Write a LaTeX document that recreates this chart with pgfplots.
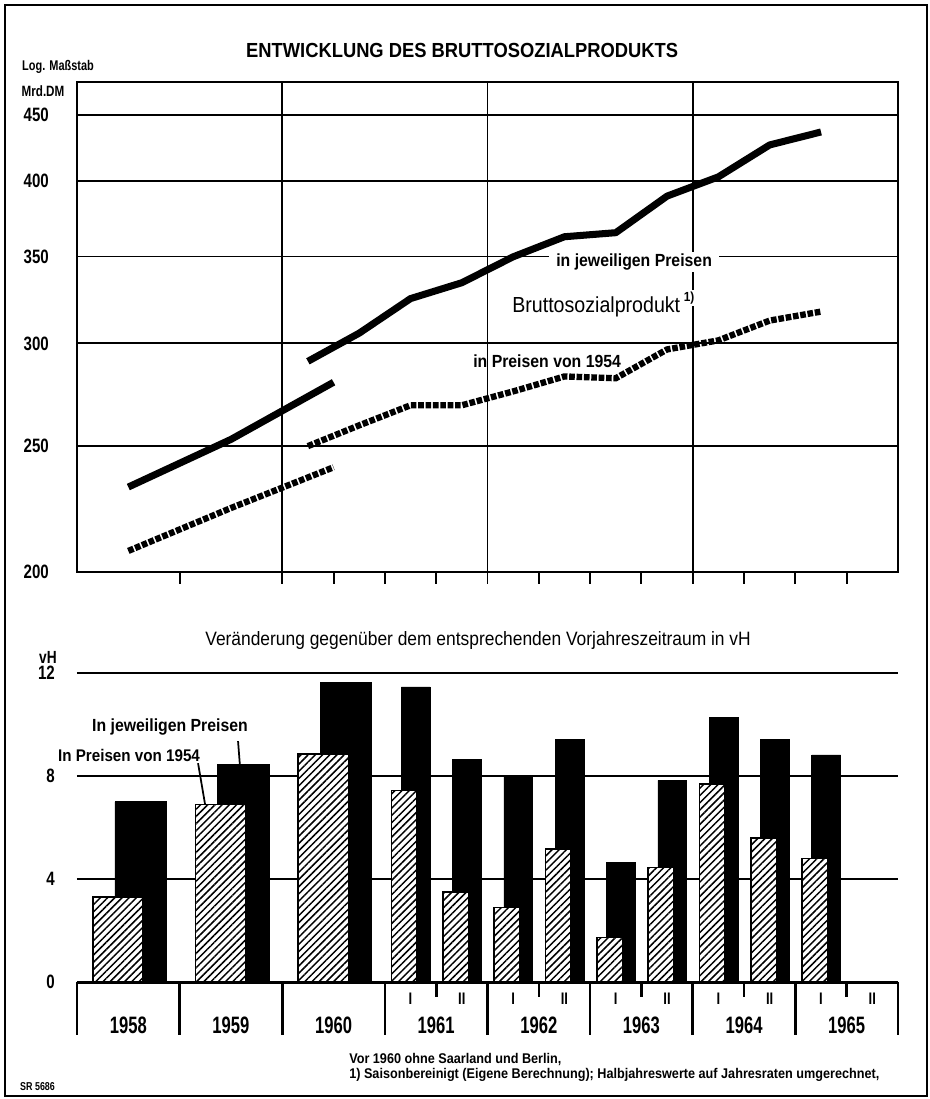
\documentclass[border=0pt]{standalone}
\usepackage{fontspec}
\setmainfont{Liberation Sans}[FakeStretch=0.9]
\newfontfamily\narrowfont{Liberation Sans}[FakeStretch=0.78]
\newfontfamily\yearfont{Liberation Sans}[FakeStretch=0.7]
\usepackage{pgfplots}
\pgfplotsset{compat=1.18}
\usetikzlibrary{patterns.meta}

\tikzset{hatch/.style={fill=white, draw=black, line width=0.9pt,
  postaction={pattern={Lines[angle=45,distance=2.9pt,line width=0.85pt]}}}}

\begin{document}
\begin{tikzpicture}
\useasboundingbox (0,0) rectangle (18.58cm,-21.98cm);

% ---------- upper panel: log scale, Mrd. DM ----------
\begin{axis}[
  at={(1.54cm,-11.44cm)}, anchor=south west,
  scale only axis, width=16.42cm, height=9.8cm,
  xmin=1958, xmax=1966, ymin=200, ymax=477, ymode=log,
  axis line style={line width=1.1pt},
  tick pos=left, tick align=outside, major tick length=0.24cm,
  xtick={1959,1960,1960.5,1961,1961.5,1962,1962.5,1963,1963.5,1964,1964.5,1965,1965.5},
  xticklabels={},
  xtick style={line width=1.1pt, black},
  extra x ticks={1960,1962,1964}, extra x tick labels={},
  extra x tick style={grid=major, major tick length=0pt},
  ytick={200,250,300,350,400,450},
  yticklabels={200,250,300,350,400,450},
  ytick style={draw=none},
  ymajorgrids,
  grid style={line width=1.1pt, black},
  yticklabel style={font=\narrowfont\bfseries\fontsize{11}{12}\selectfont, xshift=-0.2cm},
]
% in jeweiligen Preisen
\addplot[line width=4pt, line join=round] coordinates {
  (1958.5,232.5) (1959.5,253) (1960.5,280)};
\addplot[line width=4pt, line join=round] coordinates {
  (1960.25,290.6) (1960.75,305.5) (1961.25,324.8) (1961.75,334.1)
  (1962.25,349.8) (1962.75,362.5) (1963.25,365.1) (1963.75,389.6)
  (1964.25,403.1) (1964.75,426.6) (1965.25,436.5)};
% in Preisen von 1954
\addplot[line width=3.6pt, dash pattern=on 3.2pt off 1pt] coordinates {
  (1958.5,207.6) (1959.5,224) (1960.5,240.8)};
\addplot[line width=3.6pt, dash pattern=on 3.2pt off 1pt] coordinates {
  (1960.25,250.0) (1960.75,259.4) (1961.25,268.8) (1961.75,268.8)
  (1962.25,275.5) (1962.75,282.9) (1963.25,282.0) (1963.75,296.8)
  (1964.25,301.6) (1964.75,312.4) (1965.25,317.4)};
\end{axis}

% ---------- lower panel: change in vH ----------
\begin{axis}[
  at={(1.54cm,-19.64cm)}, anchor=south west,
  scale only axis, width=16.42cm, height=6.18cm,
  xmin=1958, xmax=1966, ymin=0, ymax=12,
  axis line style={draw=none},
  xtick=\empty, ytick={0,4,8,12},
  ytick style={draw=none},
  ymajorgrids,
  grid style={line width=1.1pt, black},
  /pgf/number format/assume math mode=true,
  yticklabel style={font=\narrowfont\bfseries\fontsize{11}{12}\selectfont, xshift=-0.32cm},
  clip=false,
]
% in jeweiligen Preisen (black)
\addplot[ybar, bar width=0.5, bar shift=0.12, fill=black, draw=black] coordinates {
  (1958.5,7.0) (1959.5,8.46) (1960.5,11.65)};
\addplot[ybar, bar width=0.28, bar shift=0.05, fill=black, draw=black] coordinates {
  (1961.25,11.46) (1961.75,8.66) (1962.25,8.0) (1962.75,9.41)
  (1963.25,4.65) (1963.75,7.83) (1964.25,10.28) (1964.75,9.41) (1965.25,8.82)};
% in Preisen von 1954 (hatched)
\addplot[ybar, bar width=0.49, bar shift=-0.1, hatch] coordinates {
  (1958.5,3.3) (1959.5,6.9) (1960.5,8.86)};
\addplot[ybar, bar width=0.25, bar shift=-0.06, hatch] coordinates {
  (1961.25,7.44) (1961.75,3.5) (1962.25,2.9) (1962.75,5.16)
  (1963.25,1.73) (1963.75,4.45) (1964.25,7.68) (1964.75,5.59) (1965.25,4.8)};
\draw[line width=1.7pt] (axis cs:1958,0) -- (axis cs:1966,0);
\end{axis}

% ---------- texts and frame (1 unit = 1 px of the reference) ----------
\begin{scope}[x=0.02cm, y=-0.02cm]
\draw[line width=1.1pt] (5,5) rectangle (927,1096);

\node[font=\bfseries\fontsize{11.6}{13}\selectfont] at (462,50)
  {ENTWICKLUNG DES BRUTTOSOZIALPRODUKTS};
\node[font=\narrowfont\bfseries\fontsize{8}{9}\selectfont] at (58,67) {Log. Maßstab};
\node[font=\narrowfont\bfseries\fontsize{8.5}{9}\selectfont] at (43,91) {Mrd.DM};

\node[font=\bfseries\fontsize{10}{12}\selectfont, fill=white, inner xsep=4pt,
  inner ysep=1pt, anchor=base] at (634,266) {in jeweiligen Preisen};
\node[font=\fontsize{12.4}{14}\selectfont, anchor=base west] at (506,312)
  {Bruttosozialprodukt};
\node[font=\bfseries\fontsize{7.5}{9}\selectfont, fill=white, inner sep=1pt] at (689,298) {1)};
\node[font=\bfseries\fontsize{10}{12}\selectfont, anchor=base west] at (467,367)
  {in Preisen von 1954};

\node[font=\fontsize{11}{13}\selectfont] at (478,640)
  {Veränderung gegenüber dem entsprechenden Vorjahreszeitraum in vH};
\node[font=\narrowfont\bfseries\fontsize{10}{12}\selectfont] at (48,657) {vH};

\node[font=\bfseries\fontsize{10}{12}\selectfont] at (170,727) {In jeweiligen Preisen};
\node[font=\bfseries\fontsize{9.6}{12}\selectfont] at (129,755) {In Preisen von 1954};
\draw[line width=1pt] (238,741) -- (240,767);
\draw[line width=1pt] (198,763) -- (205,804);

% category band
\foreach \k in {0,...,8}
  \draw[line width=1.5pt] ({77+\k*102.6},982) -- ({77+\k*102.6},1035);
\foreach \k in {3,...,7}
  \draw[line width=1.5pt] ({77+(\k+0.5)*102.6},982) -- ({77+(\k+0.5)*102.6},997);
\foreach \y [count=\i from 0] in {1958,1959,1960,1961,1962,1963,1964,1965}
  \node[font=\yearfont\bfseries\fontsize{13.5}{14}\selectfont] at ({77+(\i+0.5)*102.6},1025) {\y};
\foreach \k in {3,...,7} {
  \node[font=\narrowfont\bfseries\fontsize{9.5}{11}\selectfont] at ({77+(\k+0.25)*102.6},999) {I};
  \node[font=\narrowfont\bfseries\fontsize{9.5}{11}\selectfont] at ({77+(\k+0.75)*102.6},999) {II};
}

\node[font=\bfseries\fontsize{8}{9}\selectfont, anchor=base west] at (343,1063)
  {Vor 1960 ohne Saarland und Berlin,};
\node[font=\bfseries\fontsize{8}{9}\selectfont, anchor=base west] at (343,1078)
  {1) Saisonbereinigt (Eigene Berechnung); Halbjahreswerte auf Jahresraten umgerechnet,};
\node[font=\narrowfont\bfseries\fontsize{6.5}{8}\selectfont, anchor=base west] at (14,1090) {SR 5686};
\end{scope}
\end{tikzpicture}
\end{document}
